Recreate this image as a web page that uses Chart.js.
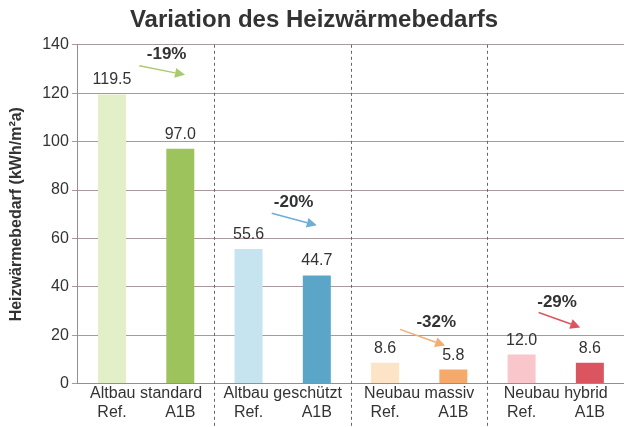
<!DOCTYPE html>
<html>
<head>
<meta charset="utf-8">
<script src="https://cdn.jsdelivr.net/npm/chart.js@4.4.1/dist/chart.umd.min.js"></script>
<style>
  html, body { margin: 0; padding: 0; background: #fff; }
  #wrap { width: 624px; height: 427px; }
</style>
</head>
<body>
<div id="wrap"><canvas id="myChart"></canvas></div>
<script>
var groups = ['Altbau standard', 'Altbau geschützt', 'Neubau massiv', 'Neubau hybrid'];
var scenarios = ['Ref.', 'A1B'];
var values = [119.5, 97.0, 55.6, 44.7, 8.6, 5.8, 12.0, 8.6];
var changes = ['-19%', '-20%', '-32%', '-29%'];
var barColors = ['#e3efc6', '#9dc45c', '#c6e4ef', '#5ba5c8', '#fde4c6', '#f5a96b', '#f9c6cc', '#da5560'];
var arrowColors = ['#a9cb70', '#6eaed2', '#f3ad72', '#e0535d'];

// tick labels: empty first line (group name drawn by plugin), scenario below
var labels = [];
groups.forEach(function () {
  labels.push(['', scenarios[0]]);
  labels.push(['', scenarios[1]]);
});

var FONT = "'Liberation Sans', Arial, sans-serif";

// change annotations: [label x idx, label y], arrow [x0, y0, x1, y1] (category idx / data units)
var notes = [
  { t: [0.80, 135.9], a: [0.40, 131.3, 1.07, 127.6] },
  { t: [2.66, 75.0], a: [2.34, 70.4, 3.00, 65.4] },
  { t: [4.75, 25.3], a: [4.22, 22.4, 4.88, 15.7] },
  { t: [6.52, 33.5], a: [6.25, 29.4, 6.86, 23.2] }
];

var extras = {
  id: 'extras',
  afterDatasetsDraw: function (chart) {
    var ctx = chart.ctx, x = chart.scales.x, y = chart.scales.y, area = chart.chartArea;
    var step = x.getPixelForValue(1) - x.getPixelForValue(0);
    var px = function (i) { return x.getPixelForValue(0) + i * step; };

    // group separators
    ctx.save();
    ctx.strokeStyle = '#666';
    ctx.lineWidth = 1;
    ctx.setLineDash([3, 3]);
    [2, 4, 6].forEach(function (i) {
      var xx = Math.round(px(i - 0.5)) + 0.5;
      ctx.beginPath();
      ctx.moveTo(xx, area.top);
      ctx.lineTo(xx, chart.height);
      ctx.stroke();
    });
    ctx.restore();

    // group names, first line under the axis
    ctx.save();
    ctx.font = '16px ' + FONT;
    ctx.fillStyle = '#333';
    ctx.textAlign = 'center';
    ctx.textBaseline = 'middle';
    groups.forEach(function (g, k) {
      ctx.fillText(g, px(2 * k + 0.5), area.bottom + 10);
    });
    ctx.restore();

    // value labels
    ctx.save();
    ctx.font = '16px ' + FONT;
    ctx.fillStyle = '#333';
    ctx.textAlign = 'center';
    ctx.textBaseline = 'alphabetic';
    var meta = chart.getDatasetMeta(0);
    meta.data.forEach(function (bar, i) {
      ctx.fillText(values[i].toFixed(1), bar.x, bar.y - 10);
    });
    ctx.restore();

    // change arrows and percentages
    notes.forEach(function (n, k) {
      var x0 = px(n.a[0]), y0 = y.getPixelForValue(n.a[1]);
      var x1 = px(n.a[2]), y1 = y.getPixelForValue(n.a[3]);
      var ang = Math.atan2(y1 - y0, x1 - x0);
      var head = 10, hw = 5;
      ctx.save();
      ctx.strokeStyle = arrowColors[k];
      ctx.fillStyle = arrowColors[k];
      ctx.lineWidth = 1.5;
      ctx.beginPath();
      ctx.moveTo(x0, y0);
      ctx.lineTo(x1 - head * Math.cos(ang), y1 - head * Math.sin(ang));
      ctx.stroke();
      ctx.beginPath();
      ctx.moveTo(x1, y1);
      ctx.lineTo(x1 - head * Math.cos(ang) + hw * Math.sin(ang), y1 - head * Math.sin(ang) - hw * Math.cos(ang));
      ctx.lineTo(x1 - head * Math.cos(ang) - hw * Math.sin(ang), y1 - head * Math.sin(ang) + hw * Math.cos(ang));
      ctx.closePath();
      ctx.fill();
      ctx.restore();

      ctx.save();
      ctx.font = 'bold 17px ' + FONT;
      ctx.fillStyle = '#333';
      ctx.textAlign = 'center';
      ctx.textBaseline = 'middle';
      ctx.fillText(changes[k], px(n.t[0]), y.getPixelForValue(n.t[1]));
      ctx.restore();
    });
  }
};

var ctx = document.getElementById('myChart').getContext('2d');
var myChart = new Chart(ctx, {
  type: 'bar',
  data: {
    labels: labels,
    datasets: [{
      label: 'Heizwärmebedarf',
      data: values,
      backgroundColor: barColors,
      barPercentage: 0.41,
      categoryPercentage: 1.0
    }]
  },
  options: {
    responsive: true,
    maintainAspectRatio: false,
    animation: false,
    layout: { padding: { left: 4, right: 0, top: 6, bottom: 5 } },
    plugins: {
      legend: { display: false },
      tooltip: { enabled: false },
      title: {
        display: true,
        text: 'Variation des Heizwärmebedarfs',
        color: '#333',
        font: { family: FONT, size: 24, weight: 'bold' },
        padding: { top: 0, bottom: 10 }
      }
    },
    scales: {
      x: {
        grid: { display: false, drawTicks: false },
        border: { color: '#9a8c8c' },
        ticks: {
          color: '#333',
          font: { family: FONT, size: 16, lineHeight: 1.2 },
          maxRotation: 0,
          autoSkip: false,
          padding: 0
        }
      },
      y: {
        min: 0,
        max: 140,
        grid: { color: '#a89a9a', tickLength: 6 },
        border: { color: '#9a8c8c' },
        ticks: {
          stepSize: 20,
          color: '#333',
          font: { family: FONT, size: 16 },
          padding: 3
        },
        title: {
          display: true,
          text: 'Heizwärmebedarf (kWh/m²a)',
          color: '#333',
          font: { family: FONT, size: 16, weight: 'bold' },
          padding: { top: 3, bottom: 13 }
        }
      }
    }
  },
  plugins: [extras]
});
</script>
</body>
</html>
